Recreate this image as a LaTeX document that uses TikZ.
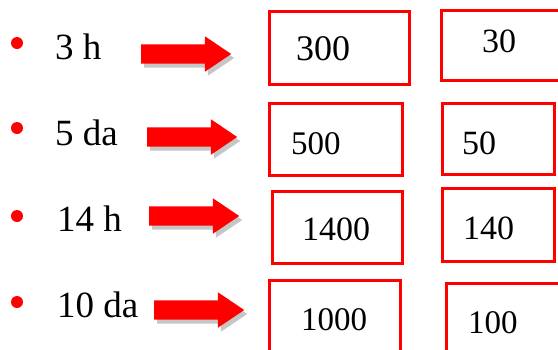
\documentclass[tikz,border=0pt]{standalone}
\usepackage{fontspec}
\setmainfont{Liberation Serif}
\usepackage{tikz}
\usetikzlibrary{shapes.arrows,shadows,positioning}

\tikzset{
    numbox/.style={draw=red, line width=3pt, inner sep=0pt},
    numtext/.style={anchor=base west, inner sep=0pt, font=\fontsize{34}{36}\selectfont},
    itemtext/.style={anchor=base west, inner sep=0pt, font=\fontsize{37}{40}\selectfont},
    bigarrow/.style={single arrow, fill=red, anchor=tail, inner xsep=0pt, inner ysep=9.5pt,
        minimum width=35pt, minimum height=90pt, single arrow head extend=8pt, single arrow tip angle=68,
        drop shadow={shadow xshift=3pt, shadow yshift=-4pt, fill=gray, opacity=.45}}
}

\begin{document}
\begin{tikzpicture}[x=1pt,y=-1pt]

    \useasboundingbox (0,0) rectangle (558,349);
    \clip (0,0) rectangle (558,349);

    % bullets
    \foreach \y in {43,128,216,302}
        \fill[red] (17,\y) circle (6pt);

    \node[itemtext] (item1) at (55,59) {3 h};
    \node[itemtext] (item2) at (55,145) {5 da};
    \node[itemtext] (item3) at (57,231) {14 h};
    \node[itemtext] (item4) at (57,317) {10 da};

    \node[bigarrow] (arr1) at (141,54) {};
    \node[bigarrow] (arr2) at (147,137) {};
    \node[bigarrow] (arr3) at (149,216) {};
    \node[bigarrow] (arr4) at (154,310) {};

    % first column
    \node[numbox, minimum width=140pt, minimum height=73pt] (boxA1) at (339.5,48) {};
    \node[numbox, minimum width=133pt, minimum height=72pt] (boxA2) at (336,139.5) {};
    \node[numbox, minimum width=130pt, minimum height=72pt] (boxA3) at (337.5,227.5) {};
    \node[numbox, minimum width=131pt, minimum height=80pt] (boxA4) at (335,320.5) {};

    % second column
    \node[numbox, minimum width=124pt, minimum height=70pt] (boxB1) at (503.5,45.5) {};
    \node[numbox, minimum width=112pt, minimum height=71pt] (boxB2) at (498.5,139) {};
    \node[numbox, minimum width=112pt, minimum height=73pt] (boxB3) at (498.5,225) {};
    \node[numbox, minimum width=119pt, minimum height=77pt] (boxB4) at (506,322) {};

    \node[numtext, font=\fontsize{36}{38}\selectfont] (numA1) at (296,60) {300};
    \node[numtext, font=\fontsize{33}{36}\selectfont] (numA2) at (291,154) {500};
    \node[numtext] (numA3) at (302,240) {1400};
    \node[numtext, font=\fontsize{33}{36}\selectfont] (numA4) at (301,330) {1000};

    \node[numtext] (numB1) at (482,52) {30};
    \node[numtext] (numB2) at (462,154) {50};
    \node[numtext] (numB3) at (463,239) {140};
    \node[numtext, font=\fontsize{33}{36}\selectfont] (numB4) at (468,333) {100};

\end{tikzpicture}
\end{document}
